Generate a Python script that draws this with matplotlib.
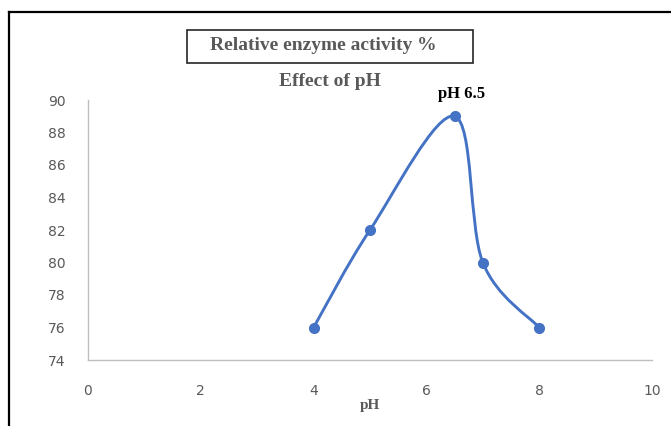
import matplotlib
matplotlib.use("Agg")
import matplotlib.pyplot as plt
import numpy as np
from matplotlib.path import Path
from matplotlib.patches import PathPatch, Rectangle
from matplotlib.lines import Line2D

# --- data ---
ph = [4, 5, 6.5, 7, 8]
activity = [76, 82, 89, 80, 76]
x_ticks = [0, 2, 4, 6, 8, 10]
y_ticks = [74, 76, 78, 80, 82, 84, 86, 88, 90]

line_color = '#4472C4'
text_gray = '#595959'
serif = ['Liberation Serif', 'DejaVu Serif']


def smooth_path(xs, ys):
    # Excel-like smoothed line: cubic Bezier segments, Catmull-Rom control points
    pts = np.column_stack([xs, ys]).astype(float)
    n = len(pts)
    verts = [pts[0]]
    codes = [Path.MOVETO]
    for i in range(n - 1):
        p0 = pts[i - 1] if i > 0 else pts[i]
        p1 = pts[i]
        p2 = pts[i + 1]
        p3 = pts[i + 2] if i + 2 < n else pts[i + 1]
        c1 = p1 + (p2 - p0) / 6.0
        c2 = p2 - (p3 - p1) / 6.0
        verts += [c1, c2, p2]
        codes += [Path.CURVE4] * 3
    return Path(verts, codes)


fig = plt.figure(figsize=(6.71, 4.26), dpi=100)
W, H = 671, 426

ax = fig.add_axes([88 / W, 66 / H, (652 - 88) / W, 260 / H])
ax.set_xlim(0, 10)
ax.set_ylim(74, 90)
ax.set_xticks(x_ticks)
ax.set_yticks(y_ticks)
ax.tick_params(length=0, labelsize=10, labelcolor=text_gray)
ax.tick_params(axis='x', pad=17)
ax.tick_params(axis='y', pad=16)
for s in ['top', 'right']:
    ax.spines[s].set_visible(False)
for s in ['left', 'bottom']:
    ax.spines[s].set_color('#BFBFBF')
    ax.spines[s].set_linewidth(1.0)

# smoothed line + markers
ax.add_patch(PathPatch(smooth_path(ph, activity), facecolor='none',
                       edgecolor=line_color, lw=2.1, zorder=3))
ax.plot(ph, activity, 'o', color=line_color, markersize=7, zorder=4,
        clip_on=False)

ax.annotate('pH 6.5', xy=(ph[2], activity[2]), xytext=(5, 16),
            textcoords='offset points', ha='center', va='center',
            fontsize=12, fontweight='bold', family=serif, color='black')

ax.set_xlabel('pH', family=serif, fontweight='bold', fontsize=11,
              color=text_gray, labelpad=1)

# titles
fig.text(330 / W, 1 - 82 / H, 'Effect of pH', ha='center', va='center',
         family=serif, fontweight='bold', fontsize=14, color=text_gray)
fig.patches.append(Rectangle((187 / W, 1 - 63 / H), (473 - 187) / W, 33 / H,
                             transform=fig.transFigure, facecolor='white',
                             edgecolor='#262626', lw=1.2))
fig.text(323 / W, 1 - 45 / H, 'Relative enzyme activity %', ha='center',
         va='center', family=serif, fontweight='bold', fontsize=14,
         color=text_gray)

# outer frame (top and left edges visible)
fig.lines.append(Line2D([9 / W, 1], [1 - 12 / H, 1 - 12 / H],
                        transform=fig.transFigure, color='black', lw=1.6))
fig.lines.append(Line2D([9 / W, 9 / W], [0, 1 - 12 / H],
                        transform=fig.transFigure, color='black', lw=1.6))

fig.savefig('out.png', dpi=100)
